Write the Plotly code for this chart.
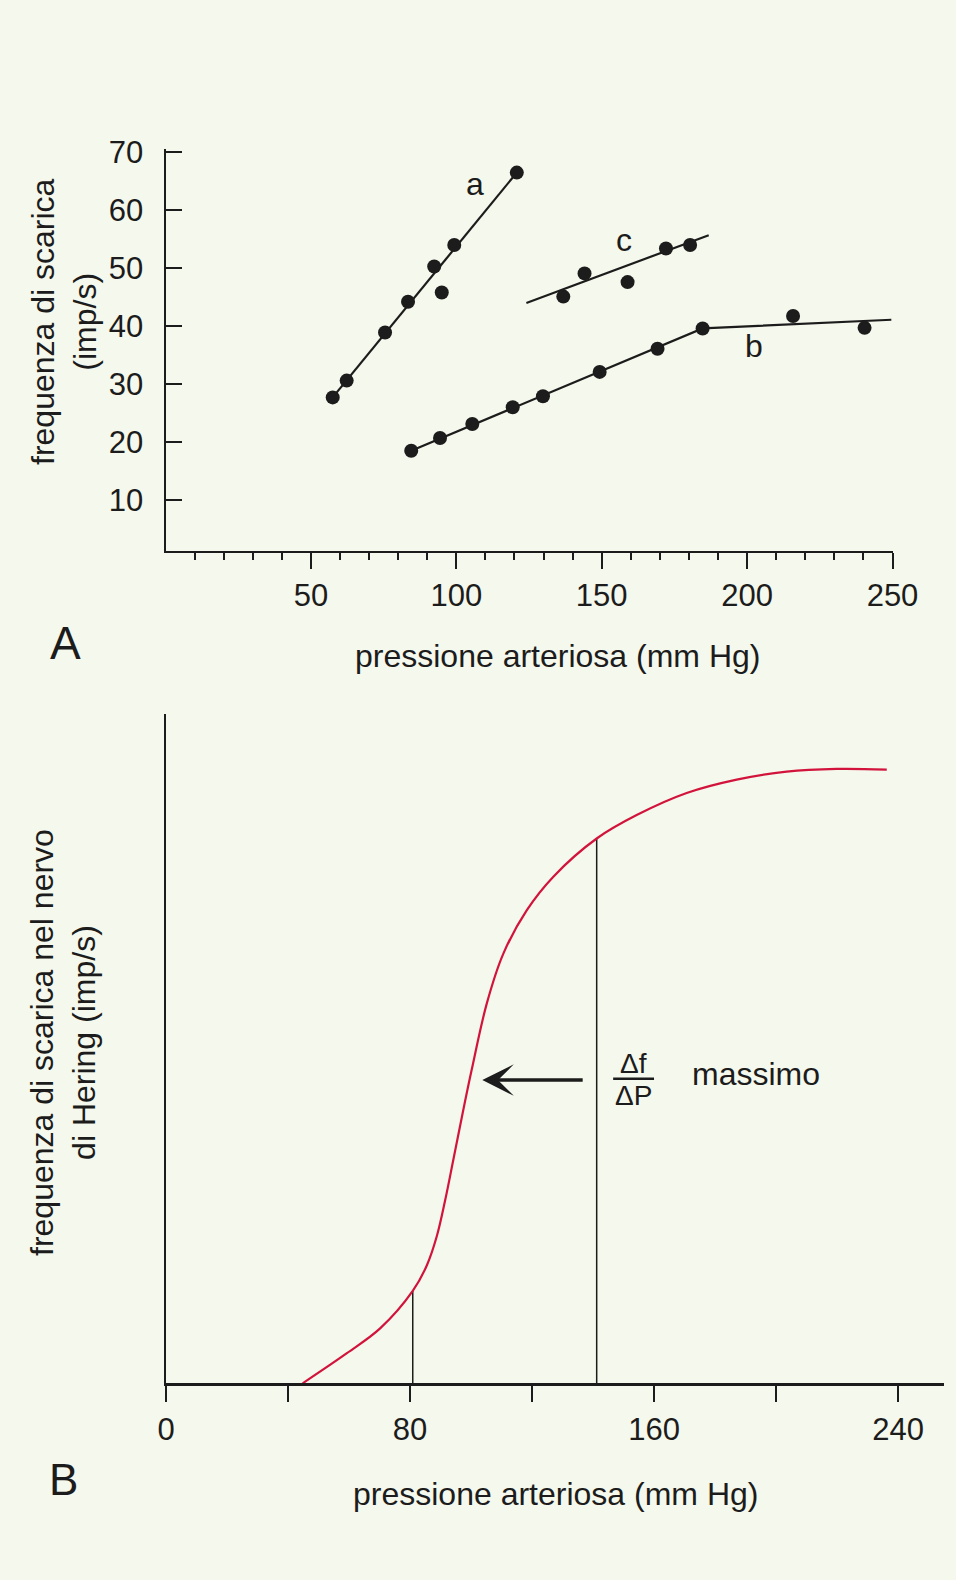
import plotly.graph_objects as go

W, H = 956, 1580
FONT = "Liberation Sans, Arial, Helvetica, sans-serif"
INK = "#1c1c1c"
BG = "#F5F8EC"
RED = "#D2143C"

# ---------------- Panel A data ----------------
a_x = [57.5, 62.3, 75.5, 83.4, 92.4, 95.0, 99.3, 120.8]
a_y = [27.7, 30.6, 38.9, 44.2, 50.3, 45.8, 54.0, 66.5]
b_x = [84.5, 94.4, 105.5, 119.4, 129.8, 149.3, 169.2, 184.7, 215.8, 240.4]
b_y = [18.5, 20.7, 23.1, 26.0, 27.9, 32.1, 36.1, 39.6, 41.75, 39.7]
c_x = [136.8, 144.1, 158.9, 172.1, 180.4]
c_y = [45.1, 49.1, 47.6, 53.4, 54.0]

a_fit_x = [56.5, 120.8]
a_fit_y = [27.1, 66.5]
b_fit_x = [84.5, 184.7, 249.6]
b_fit_y = [18.5, 39.6, 41.1]
c_fit_x = [124.1, 186.8]
c_fit_y = [44.0, 55.7]

series_labels = ["a", "b", "c"]
label_x = [106.6, 202.4, 157.7]
label_y = [64.6, 36.5, 54.9]

yA_ticks = [10, 20, 30, 40, 50, 60, 70]
xA_ticks = [50, 100, 150, 200, 250]
xA_minor = [v for v in range(10, 250, 10) if v % 50]

# ---------------- Panel B data ----------------
curve_x = [44.8, 59.3, 70.2, 80.9, 85.5, 88.8, 91.5, 94.2, 97.0, 100.2, 105.2,
           110.6, 118.3, 127.0, 141.2, 154.3, 170.7, 187.1, 203.5, 219.9, 236.3]
curve_y = [0.0, 4.5, 8.2, 13.8, 17.6, 22.0, 27.3, 33.4, 39.8, 46.8, 56.8,
           64.2, 70.7, 75.7, 81.4, 84.9, 88.2, 90.2, 91.4, 91.8, 91.7]
guide_x = [80.9, 141.2]
guide_top = [13.8, 81.4]

xB_ticks = [0, 40, 80, 120, 160, 200, 240]
xB_text = ["0", "", "80", "", "160", "", "240"]

arrow_tip = (103.7, 45.3)
arrow_tail = (137.1, 45.3)


def px(x):
    return x / W


def py(y):
    return 1 - y / H


fig = go.Figure()

# panel A fitted lines
for fx, fy in [(a_fit_x, a_fit_y), (b_fit_x, b_fit_y), (c_fit_x, c_fit_y)]:
    fig.add_trace(go.Scatter(x=fx, y=fy, mode="lines", line=dict(color=INK, width=2.2),
                             xaxis="x", yaxis="y", showlegend=False, hoverinfo="skip"))
# panel A points
for sx, sy in [(a_x, a_y), (b_x, b_y), (c_x, c_y)]:
    fig.add_trace(go.Scatter(x=sx, y=sy, mode="markers", marker=dict(color=INK, size=14),
                             xaxis="x", yaxis="y", showlegend=False))

# panel B guide lines
for gx, gt in zip(guide_x, guide_top):
    fig.add_trace(go.Scatter(x=[gx, gx], y=[0, gt], mode="lines", line=dict(color=INK, width=1.5),
                             xaxis="x2", yaxis="y2", showlegend=False, hoverinfo="skip"))
# panel B curve
fig.add_trace(go.Scatter(x=curve_x, y=curve_y, mode="lines",
                         line=dict(color=RED, width=2.2, shape="spline", smoothing=1.0),
                         xaxis="x2", yaxis="y2", showlegend=False))


def txt(x, y, t, size, xref="paper", yref="paper", **kw):
    d = dict(x=x, y=y, xref=xref, yref=yref, text=t, showarrow=False,
             xanchor="center", yanchor="middle",
             font=dict(size=size, color=INK, family=FONT))
    d.update(kw)
    return d


ann = []
for t, lx, ly in zip(series_labels, label_x, label_y):
    ann.append(txt(lx, ly, t, 32, xref="x", yref="y"))

# titles and panel letters
ann += [
    txt(px(64), py(322), "frequenza di scarica<br>(imp/s)", 32, textangle=-90),
    txt(px(557.6), py(656), "pressione arteriosa (mm Hg)", 32),
    txt(px(65), py(643), "A", 46),
    txt(px(63), py(1043), "frequenza di scarica nel nervo<br>di Hering (imp/s)", 32, textangle=-90),
    txt(px(555.5), py(1494), "pressione arteriosa (mm Hg)", 32),
    txt(px(64), py(1479), "B", 44),
    # arrow
    dict(x=arrow_tip[0], y=arrow_tip[1], ax=arrow_tail[0], ay=arrow_tail[1],
         xref="x2", yref="y2", axref="x2", ayref="y2", text="", showarrow=True,
         arrowhead=3, arrowwidth=3.5, arrowsize=1.5, arrowcolor=INK, standoff=0),
    # delta f / delta P
    txt(153.3, 45.5, "Δf", 28, xref="x2", yref="y2", yanchor="bottom", yshift=-2),
    txt(153.3, 45.5, "ΔP", 28, xref="x2", yref="y2", yanchor="top", yshift=1),
    txt(193.4, 46.2, "massimo", 32, xref="x2", yref="y2"),
]

shapes = [
    dict(type="line", xref="x2", yref="y2", x0=146.6, x1=160.0, y0=45.5, y1=45.5,
         line=dict(color=INK, width=2.7)),
]

axis_common = dict(showgrid=False, zeroline=False, showline=True, linecolor=INK,
                   automargin=False,
                   tickcolor=INK, tickfont=dict(size=31, color=INK, family=FONT))

fig.update_layout(
    width=W, height=H, autosize=False,
    margin=dict(l=0, r=0, t=0, b=0, pad=0),
    paper_bgcolor=BG, plot_bgcolor=BG,
    showlegend=False,
    font=dict(family=FONT, color=INK),
    xaxis=dict(domain=[px(165.5), px(892.5)], range=[0, 250], anchor="y",
               tickmode="array", tickvals=xA_ticks, ticks="outside", ticklen=16, tickwidth=2,
               linewidth=2, ticklabelstandoff=0,
               minor=dict(tickmode="array", tickvals=xA_minor, ticks="outside", ticklen=7,
                          tickwidth=2, tickcolor=INK),
               **axis_common),
    yaxis=dict(domain=[py(550.7), py(149.3)], range=[1.24, 70.52], anchor="x",
               tickmode="array", tickvals=yA_ticks, ticks="inside", ticklen=16, tickwidth=2,
               linewidth=2, ticklabelstandoff=14,
               **axis_common),
    xaxis2=dict(domain=[px(166), px(943.8)], range=[0, 255], anchor="y2",
                tickmode="array", tickvals=xB_ticks, ticktext=xB_text, ticks="outside",
                ticklen=16, tickwidth=1.5, linewidth=2.5, ticklabelstandoff=1,
                **axis_common),
    yaxis2=dict(domain=[py(1383.3), py(714)], range=[0, 100], anchor="x2",
                showticklabels=False, ticks="", linewidth=1.5,
                **axis_common),
    annotations=ann,
    shapes=shapes,
)

fig.write_html(
    "out.html",
    config={"displayModeBar": False},
    post_script=(
        "document.documentElement.style.margin='0';"
        "document.body.style.margin='0';"
        "document.body.style.overflow='hidden';"
        "document.body.style.background='" + BG + "';"
    ),
)
